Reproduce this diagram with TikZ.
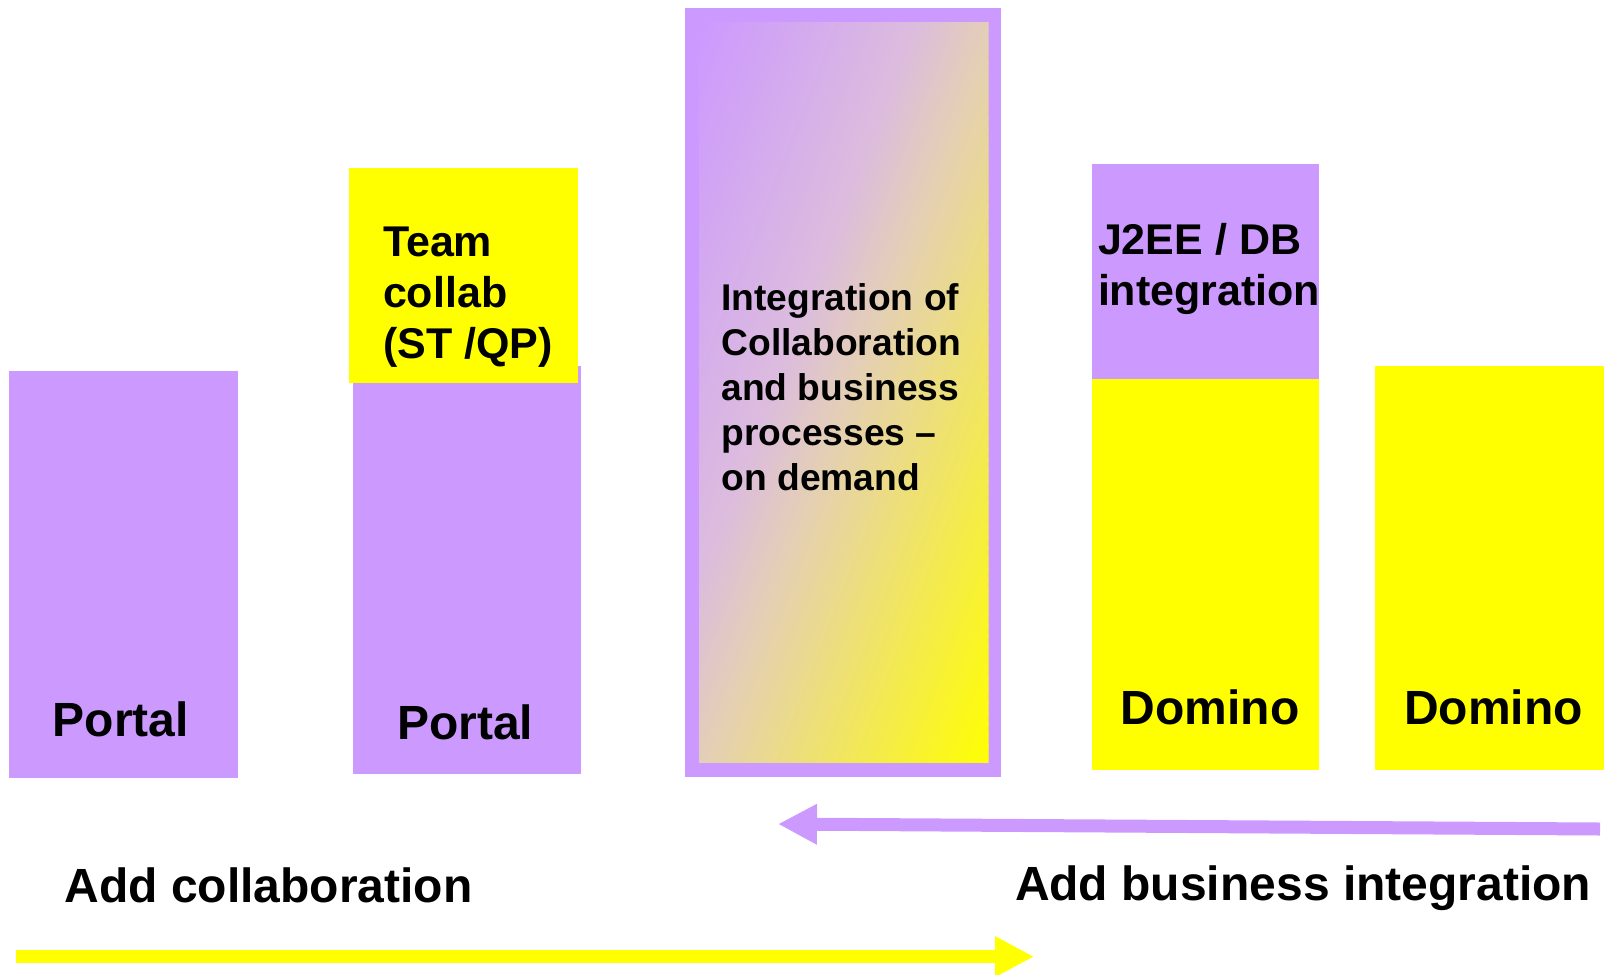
\documentclass[tikz,border=0pt]{standalone}
\usepackage{fontspec}
\setmainfont{Liberation Sans}
\usetikzlibrary{arrows.meta}
\definecolor{lilac}{HTML}{CC99FF}
\definecolor{lemon}{HTML}{FFFF00}
\definecolor{blush}{RGB}{220,188,222}
\definecolor{sand}{RGB}{228,207,182}
\newcommand{\sizeportal}{\fontsize{48}{58}\selectfont}
\newcommand{\sizeteam}{\fontsize{43}{51}\selectfont}
\newcommand{\sizemid}{\fontsize{37.2}{45}\selectfont}
\newcommand{\sizeadd}{\fontsize{48}{58}\selectfont}
\begin{document}
\begin{tikzpicture}[x=1pt,y=-1pt,
    block/.style={anchor=north west,inner sep=0pt,outer sep=0pt},
    txt/.style={inner sep=0pt,outer sep=0pt,font=\bfseries},
    flowarrow/.style={line width=13pt,-{Triangle[length=39pt,width=38pt]}}]
  \useasboundingbox (0,0) rectangle (1605,974);
  % columns
  \node[block,fill=lilac,minimum width=228.3pt,minimum height=407.5pt] (portalA) at (9.2,370.5) {};
  \node[block,fill=lilac,minimum width=228.3pt,minimum height=407.4pt] (portalB) at (353.1,366.4) {};
  \node[block,fill=lemon,minimum width=229.3pt,minimum height=214.9pt] (team) at (349,167.9) {};
  \node[block,fill=lilac,minimum width=316.2pt,minimum height=768.7pt] (ondemand) at (684.8,8.2) {};
  \node[block,minimum width=289.5pt,minimum height=740.1pt] (ondemandIn) at (699.1,22.5) {};
  \node[block,fill=lilac,minimum width=227.2pt,minimum height=214.9pt] (jee) at (1092.2,163.8) {};
  \node[block,fill=lemon,minimum width=227.2pt,minimum height=391pt] (dominoA) at (1092.2,378.7) {};
  \node[block,fill=lemon,minimum width=229.3pt,minimum height=403.3pt] (dominoB) at (1374.7,366.4) {};
  % diagonal blend lilac -> yellow
  \begin{scope}
    \clip (ondemandIn.north west) rectangle (ondemandIn.south east);
    \begin{scope}[shift={(ondemandIn.north west)},rotate=-21.3]
      \foreach \t in {0,4,...,196} {
        \pgfmathsetmacro\p{\t/2}
        \fill[blush!\p!lilac] (\t,-110) rectangle ++(4.6,810);
      }
      \foreach \t in {200,204,...,268} {
        \pgfmathsetmacro\p{min(100,(\t-200)/0.72)}
        \fill[sand!\p!blush] (\t,-110) rectangle ++(4.6,810);
      }
      \foreach \t in {272,276,...,540} {
        \pgfmathsetmacro\p{min(100,(\t-272)/2.66)}
        \fill[lemon!\p!sand] (\t,-110) rectangle ++(4.6,810);
      }
    \end{scope}
  \end{scope}
  % labels
  \node[txt,anchor=base,font=\bfseries\sizeportal] (portalAtxt) at (120.8,736) {Portal};
  \node[txt,anchor=base,font=\bfseries\sizeportal] (portalBtxt) at (465.2,739) {Portal};
  \node[txt,anchor=north west,align=left,font=\bfseries\sizeteam] (teamtxt) at (383,227)
    {Team\\collab\\(ST /QP)};
  \node[txt,anchor=north west,align=left,font=\bfseries\sizemid] (ondemandtxt) at (721.5,284)
    {Integration of\\Collaboration\\and business\\processes --\\on demand};
  \node[txt,anchor=north west,align=left,font=\bfseries\sizeteam] (jeetxt) at (1098,223)
    {J2EE / DB\\integration};
  \node[txt,anchor=base,font=\bfseries\sizeportal] (dominoAtxt) at (1210,724) {Domino};
  \node[txt,anchor=base,font=\bfseries\sizeportal] (dominoBtxt) at (1493.5,724) {Domino};
  \node[txt,anchor=base west,font=\bfseries\sizeadd] (collabtxt) at (64.5,902) {Add collaboration};
  \node[txt,anchor=base west,font=\bfseries\sizeadd] (biztxt) at (1015,900) {Add business integration};
  % arrows
  \coordinate (bizR) at (1600,829);
  \coordinate (bizL) at (778,824);
  \coordinate (colS) at (16,956.6);
  \coordinate (colE) at (1034,956.6);
  \draw[flowarrow,lilac] (bizR) -- (bizL);
  \draw[flowarrow,lemon] (colS) -- (colE);
\end{tikzpicture}
\end{document}
